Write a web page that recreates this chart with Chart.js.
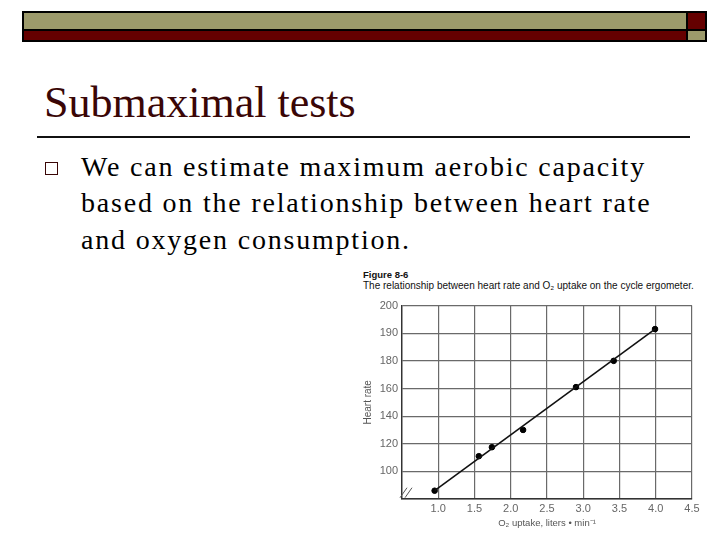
<!DOCTYPE html>
<html lang="en">
<head>
<meta charset="UTF-8">
<title>Submaximal tests</title>
<script src="https://cdn.jsdelivr.net/npm/chart.js"></script>
<style>
    body { margin: 0; width: 720px; height: 540px; background: #fff; position: relative; overflow: hidden; }
    .bar { position: absolute; left: 22px; top: 11px; width: 681px; height: 27px; background: #000; padding: 2px;
           display: grid; grid-template-columns: 1fr 17px; grid-template-rows: 16px 9px; gap: 2px; }
    .olive { background: #9c9a6b; }
    .maroon { background: #650000; }
    h1 { position: absolute; left: 44px; top: 81px; margin: 0; font: normal 44px/1 "Liberation Serif", serif; color: #3a0606; }
    .rule { position: absolute; left: 37px; top: 136px; width: 653px; height: 2px; background: #111; }
    .bullet { position: absolute; left: 45px; top: 162px; width: 11px; height: 11px; border: 1.5px solid #3a0606; }
    .text { position: absolute; left: 81px; top: 149px; margin: 0; font: 28px/36.3px "Liberation Serif", serif; letter-spacing: 1.8px; color: #000; white-space: nowrap; }
    .cap { position: absolute; left: 363px; font-family: "Liberation Sans", sans-serif; color: #111; }
    #wrap { position: absolute; left: 358px; top: 295px; width: 350px; height: 234px; }
</style>
</head>
<body>
<div class="bar">
    <div class="olive"></div><div class="maroon"></div>
    <div class="maroon"></div><div class="olive"></div>
</div>
<h1>Submaximal tests</h1>
<div class="rule"></div>
<div class="bullet"></div>
<p class="text">We can estimate maximum aerobic capacity<br>based on the relationship between heart rate<br>and oxygen consumption.</p>
<div class="cap" style="top:269px;font-size:9.5px;font-weight:bold;">Figure 8-6</div>
<div class="cap" style="top:280px;font-size:10px;">The relationship between heart rate and O₂ uptake on the cycle ergometer.</div>
<div id="wrap"><canvas id="grafico"></canvas></div>

<script>
// datos
const o2Uptake = [0.95, 1.56, 1.74, 2.17, 2.9, 3.42, 3.99];
const heartRate = [86, 111, 117.5, 130, 161, 180, 191.5];
const lineaX = [0.95, 3.99];
const lineaY = [86, 191.5];
// marcas del eje y (espaciadas igual en la figura original)
const yTicks = [80, 100, 120, 140, 160, 180, 190, 200];
const xTicks = [0.5, 1.0, 1.5, 2.0, 2.5, 3.0, 3.5, 4.0, 4.5];

// convierte frecuencia cardiaca a la posicion de la cuadricula
function aGrilla(v) {
    for (let i = 0; i < yTicks.length - 1; i++) {
        if (v <= yTicks[i + 1]) {
            return i + (v - yTicks[i]) / (yTicks[i + 1] - yTicks[i]);
        }
    }
    return yTicks.length - 1;
}

const puntos = o2Uptake.map((x, i) => ({ x: x, y: aGrilla(heartRate[i]) }));
const linea = lineaX.map((x, i) => ({ x: x, y: aGrilla(lineaY[i]) }));

// pequeñas marcas de corte en la esquina
const corte = {
    id: 'corte',
    afterDraw(chart) {
        const c = chart.ctx, a = chart.chartArea;
        const y = chart.scales.y.getPixelForValue(0.3);
        c.save();
        c.strokeStyle = '#555';
        c.lineWidth = 1;
        [0, 5].forEach(d => {
            c.beginPath();
            c.moveTo(a.left - 2 + d, y + 7);
            c.lineTo(a.left + 5 + d, y - 3);
            c.stroke();
        });
        c.restore();
    }
};

const tick = { family: 'Liberation Sans', size: 11 };

new Chart(document.getElementById('grafico'), {
    type: 'scatter',
    data: {
        datasets: [
            { data: linea, showLine: true, borderColor: '#111', borderWidth: 1.6, pointRadius: 0 },
            { data: puntos, backgroundColor: '#000', borderColor: '#000', pointRadius: 2.8 }
        ]
    },
    options: {
        responsive: true,
        maintainAspectRatio: false,
        animation: false,
        layout: { padding: { top: 8, right: 16, left: 0, bottom: 0 } },
        plugins: { legend: { display: false }, tooltip: { enabled: false } },
        scales: {
            x: {
                type: 'linear', min: 0.5, max: 4.5,
                afterBuildTicks: s => { s.ticks = xTicks.map(v => ({ value: v })); },
                afterFit: s => { s.height = 30; },
                grid: { color: '#6a6a6a', lineWidth: 1.2, drawTicks: false },
                border: { color: '#333', width: 1.4 },
                ticks: { padding: 3, color: '#666', font: tick, callback: v => v === 0.5 ? '' : v.toFixed(1) },
                title: { display: true, text: 'O₂ uptake, liters • min⁻¹', color: '#555', font: { family: 'Liberation Sans', size: 9.5 }, padding: { top: 2, bottom: 0 } }
            },
            y: {
                type: 'linear', min: 0, max: yTicks.length - 1,
                afterBuildTicks: s => { s.ticks = yTicks.map((v, i) => ({ value: i })); },
                afterFit: s => { s.width = 44; },
                grid: { color: '#6a6a6a', lineWidth: 1.2, drawTicks: false },
                border: { color: '#333', width: 1.4 },
                ticks: { padding: 4, color: '#666', font: tick, callback: (v, i) => i === 0 ? '' : String(yTicks[i]) },
                title: { display: true, text: 'Heart rate', color: '#555', font: { family: 'Liberation Sans', size: 10 }, padding: { top: 4, bottom: 2 } }
            }
        }
    },
    plugins: [corte]
});
</script>
</body>
</html>
